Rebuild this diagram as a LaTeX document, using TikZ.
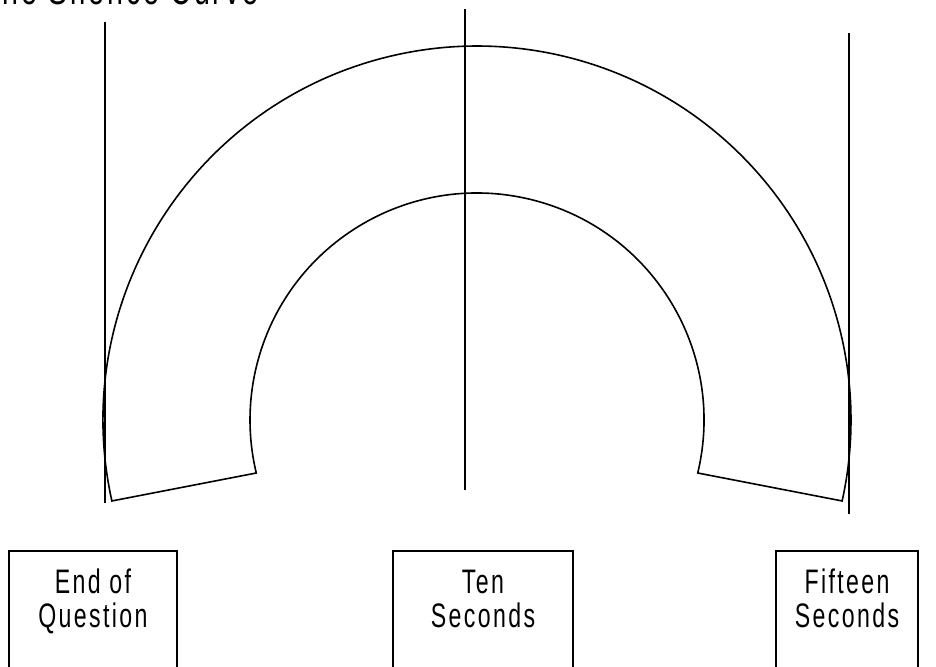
\documentclass[tikz,border=0pt]{standalone}
\usepackage{fontspec}
\newfontfamily\lblfont{Liberation Sans}[FakeStretch=0.68,LetterSpace=7]
\usetikzlibrary{positioning}
\definecolor{ink}{HTML}{000000}

\begin{document}
\begin{tikzpicture}[x=0.5pt, y=0.5pt]
    \tikzset{
      scaleline/.style={draw=ink, line width=1pt},
      curve/.style={draw=ink, line width=0.8pt},
      timebox/.style={draw=ink, line width=0.8pt, anchor=north, align=center,
        font=\lblfont\fontsize{17}{17}\selectfont, inner sep=0pt,
        text height=38.5pt, text depth=40pt}
    }
    \useasboundingbox (0,0) rectangle (936,-666);
    \clip (0,0) rectangle (936,-666);

    \node[anchor=base west, font=\lblfont\fontsize{21}{24}\selectfont, inner sep=0pt] (title) at (-18,-4) {The Silence Curve};

    \draw[scaleline] (105,-22) -- (105,-503);
    \draw[scaleline] (465,-9) -- (465,-490);
    \draw[scaleline] (849,-33) -- (849,-514);

    \coordinate (c) at (477,-420);
    \draw[curve] ([shift={(192.5:374)}]c) arc[start angle=192.5, end angle=-12.5, radius=374]
      -- ([shift={(-13.5:227)}]c) arc[start angle=-13.5, end angle=193.5, radius=227] -- cycle;

    \node[timebox, minimum width=84pt] (endq) at (93,-550) {End of\\Question};
    \node[timebox, minimum width=90pt] (tensec) at (483,-550) {Ten\\Seconds};
    \node[timebox, minimum width=71pt] (fifteensec) at (847,-550) {Fifteen\\Seconds};
\end{tikzpicture}
\end{document}
